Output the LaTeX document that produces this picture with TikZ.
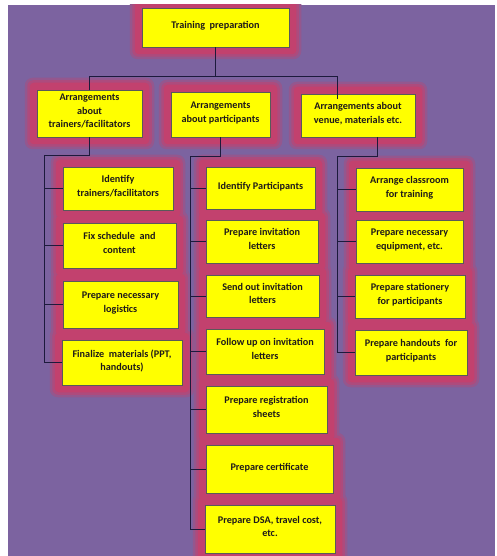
\documentclass[tikz,border=0pt]{standalone}
\usepackage{fontspec}
\setmainfont{Carlito}
\usetikzlibrary{calc,backgrounds}
\definecolor{bgpurple}{HTML}{7C63A0}
\definecolor{glowred}{HTML}{C2416E}
\definecolor{boxyellow}{HTML}{FFFF00}
\definecolor{linecol}{HTML}{1C1A3C}
\definecolor{textcol}{HTML}{1E1A1A}
\pgfdeclarelayer{glowlayer}
\pgfsetlayers{background,glowlayer,main}
\tikzset{
  box/.style={draw=black!65, line width=0.5pt, fill=boxyellow, align=center,
    font=\bfseries\fontsize{10.2}{13.5}\selectfont, text=textcol, inner sep=2pt,
    text depth=5pt},
  conn/.style={draw=linecol, line width=0.9pt},
  glowA/.style={fill=glowred!35!bgpurple, rounded corners=8pt},
  glowB/.style={fill=glowred!70!bgpurple, rounded corners=6pt},
  glowC/.style={fill=glowred, rounded corners=4pt},
}
\begin{document}
\begin{tikzpicture}[x=1pt,y=-1pt]
\useasboundingbox (0,0) rectangle (497,556);
\begin{pgfonlayer}{background}
\fill[white] (0,0) rectangle (497,556);
\fill[bgpurple] (8,5) rectangle (495,556);
\end{pgfonlayer}

\node[box, minimum width=147pt, minimum height=39pt] (top) at (215.5,27.5) {Training\ \ preparation};

\node[box, minimum width=105pt, minimum height=47pt] (A) at (89.5,113.5) {Arrangements\\about\\trainers/facilitators};
\node[box, minimum width=99pt, minimum height=45pt] (B) at (220.5,114.5) {Arrangements\\about participants};
\node[box, minimum width=114pt, minimum height=43pt] (C) at (358,115.5) {Arrangements about\\venue, materials etc.};

\node[box, minimum width=110pt, minimum height=43pt] (a1) at (118,188.5) {Identify\\trainers/facilitators};
\node[box, minimum width=113pt, minimum height=45pt] (a2) at (119.5,245.5) {Fix schedule\ \ and\\content};
\node[box, minimum width=115pt, minimum height=47pt] (a3) at (120.5,304.5) {Prepare necessary\\logistics};
\node[box, minimum width=120pt, minimum height=45pt] (a4) at (122,362.5) {Finalize\ \ materials (PPT,\\handouts)};

\node[box, minimum width=109pt, minimum height=42pt] (b1) at (260.5,188) {Identify Participants};
\node[box, minimum width=112pt, minimum height=43pt] (b2) at (262,241.5) {Prepare invitation\\letters};
\node[box, minimum width=113pt, minimum height=42pt] (b3) at (262.5,296) {Send out invitation\\letters};
\node[box, minimum width=118pt, minimum height=45pt] (b4) at (265,351.5) {Follow up on invitation\\letters};
\node[box, minimum width=121pt, minimum height=47pt] (b5) at (266.5,409.5) {Prepare registration\\sheets};
\node[box, minimum width=127pt, minimum height=48pt] (b6) at (269.5,469) {Prepare certificate};
\node[box, minimum width=130pt, minimum height=48pt] (b7) at (270,529) {Prepare DSA, travel cost,\\etc.};

\node[box, minimum width=107pt, minimum height=43pt] (c1) at (409.5,189.5) {Arrange classroom\\for training};
\node[box, minimum width=107pt, minimum height=43pt] (c2) at (409.5,241.5) {Prepare necessary\\equipment, etc.};
\node[box, minimum width=110pt, minimum height=43pt] (c3) at (410,296.5) {Prepare stationery\\for participants};
\node[box, minimum width=112pt, minimum height=45pt] (c4) at (411,352.5) {Prepare handouts\ \ for\\participants};

\begin{pgfonlayer}{glowlayer}
\begin{scope}
\clip (8,5) rectangle (495,556);
\foreach \n in {top,A,B,C,a1,a2,a3,a4,b1,b2,b3,b4,b5,b6,b7,c1,c2,c3,c4}{
  \fill[glowA] ([shift={(-12pt,12pt)}]\n.north west) rectangle ([shift={(12pt,-12pt)}]\n.south east);
}
\foreach \n in {top,A,B,C,a1,a2,a3,a4,b1,b2,b3,b4,b5,b6,b7,c1,c2,c3,c4}{
  \fill[glowB] ([shift={(-9.5pt,9.5pt)}]\n.north west) rectangle ([shift={(9.5pt,-9.5pt)}]\n.south east);
}
\foreach \n in {top,A,B,C,a1,a2,a3,a4,b1,b2,b3,b4,b5,b6,b7,c1,c2,c3,c4}{
  \fill[glowC] ([shift={(-7pt,7pt)}]\n.north west) rectangle ([shift={(7pt,-7pt)}]\n.south east);
}
\end{scope}
\end{pgfonlayer}

% top level connectors
\coordinate (hl) at (89.5,76);
\coordinate (hr) at (337,76);
\draw[conn] (top.south) -- (top.south |- hl);
\draw[conn] (A.north) |- (hr) -- ($(hr |- C.north)+(0,-5pt)$);

% column A
\coordinate (av) at (44,155);
\draw[conn] (A.south) |- (av) -- (av |- a4.west);
\foreach \n in {a1,a2,a3,a4}{ \draw[conn] (av |- \n.west) -- (\n.west); }

% column B
\coordinate (bv) at (190,156);
\draw[conn] (B.south) |- (bv) -- (bv |- b7.west);
\foreach \n in {b1,b2,b3,b4,b5,b6,b7}{ \draw[conn] (bv |- \n.west) -- (\n.west); }

% column C
\coordinate (cv) at (337,156);
\draw[conn] ([xshift=19pt]C.south) |- (cv) -- (cv |- c4.west);
\foreach \n in {c1,c2,c3,c4}{ \draw[conn] (cv |- \n.west) -- (\n.west); }
\end{tikzpicture}
\end{document}
